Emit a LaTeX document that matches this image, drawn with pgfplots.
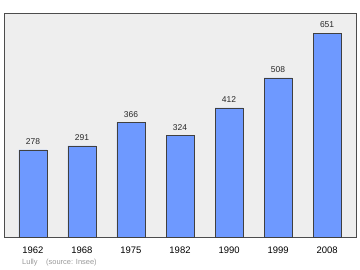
\documentclass[border=0pt]{standalone}
\usepackage{pgfplots}
\pgfplotsset{compat=1.18}
\usepackage{fontspec}
\setmainfont{Liberation Sans}
\definecolor{barblue}{RGB}{110,153,255}
\definecolor{bgray}{RGB}{238,238,238}
\begin{document}
\begin{tikzpicture}[x=1bp,y=1bp]
\useasboundingbox (0,0) rectangle (360,270);
\begin{axis}[
  at={(4bp,33bp)}, anchor=south west,
  scale only axis, width=352bp, height=224bp,
  xmin=-0.59, xmax=6.59, ymin=0, ymax=715,
  axis background/.style={fill=bgray},
  axis line style={draw=black!70, line width=0.9pt},
  xtick=data,
  xticklabels={1962,1968,1975,1982,1990,1999,2008},
  ytick=\empty,
  major tick length=0pt,
  /pgf/number format/assume math mode=true,
  xticklabel style={font=\fontsize{9.5}{10}\selectfont, yshift=-6bp},
  ybar, bar width=28bp,
  nodes near coords,
  nodes near coords style={font=\fontsize{8.5}{9}\selectfont, black!85, yshift=1.5bp},
  clip=false,
]
\addplot[fill=barblue, draw=black!75, line width=0.5pt] coordinates {
(0,278) (1,291) (2,366) (3,324) (4,412) (5,508) (6,651)};
\end{axis}
\node[anchor=west, text=black!40, font=\fontsize{7.5}{8}\selectfont, inner sep=0] at (22,7) {Lully};
\node[anchor=west, text=black!40, font=\fontsize{7.5}{8}\selectfont, inner sep=0] at (46,7) {(source: Insee)};
\end{tikzpicture}
\end{document}
